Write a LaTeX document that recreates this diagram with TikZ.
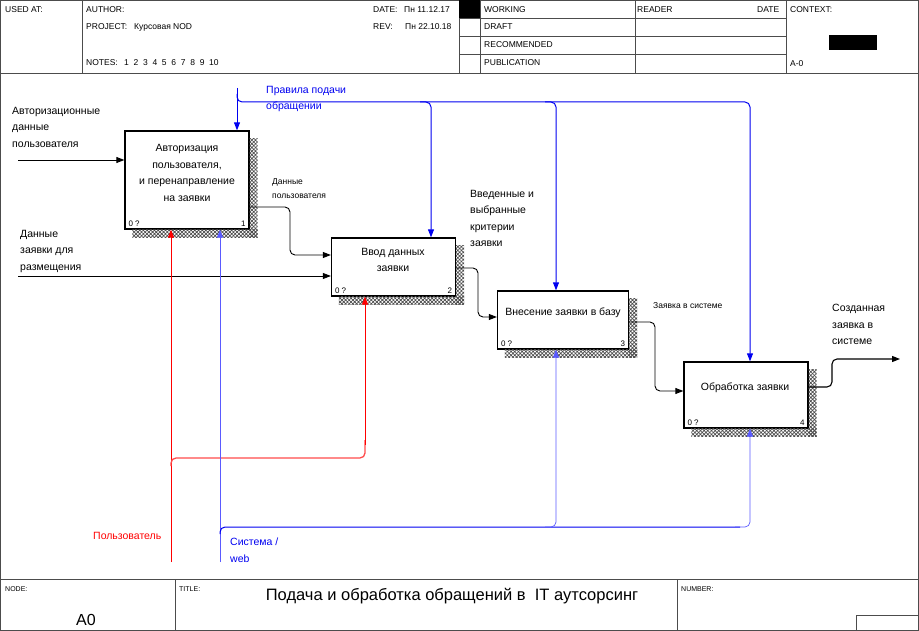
\documentclass[tikz,border=0pt]{standalone}
\usepackage{fontspec}
\setmainfont{Liberation Sans}
\usetikzlibrary{arrows.meta,patterns.meta,calc}
\definecolor{cblue}{RGB}{0,0,240}
\definecolor{mblue}{RGB}{90,90,255}
\definecolor{mred}{RGB}{255,0,0}
\newcommand\boxshadow[1]{%
  \fill[pattern={Hatch[distance=2.6pt, angle=45, line width=0.7pt]}, pattern color=black!70] ($(#1.north east)+(0,8)$) rectangle ($(#1.south east)+(8,8)$);
  \fill[pattern={Hatch[distance=2.6pt, angle=45, line width=0.7pt]}, pattern color=black!70] ($(#1.south west)+(8,0)$) rectangle ($(#1.south east)+(8,8)$);
}
\begin{document}
\begin{tikzpicture}[x=1pt,y=-1pt,
  hdr/.style={font=\fontsize{8.5}{10}\selectfont, anchor=west, inner sep=0},
  ftr/.style={font=\fontsize{7}{8}\selectfont, anchor=west, inner sep=0},
  frame/.style={draw=black!70, line width=0.8pt},
  box/.style={draw, line width=1.3pt, fill=white, inner sep=0},
  boxtxt/.style={font=\fontsize{10.5}{16.5}\selectfont, align=center, inner sep=0},
  lbl/.style={font=\fontsize{10.5}{16.5}\selectfont, align=left, anchor=north west, inner sep=0},
  small/.style={font=\fontsize{8.5}{14}\selectfont, align=left, anchor=north west, inner sep=0},
  num/.style={font=\fontsize{8}{9}\selectfont, inner sep=0},
  tip/.style={-{Triangle[length=8pt,width=6pt]}},
  flow/.style={tip, line width=0.9pt, rounded corners=5pt},
  ctrl/.style={tip, draw=cblue, line width=1pt, rounded corners=5pt},
  mech/.style={tip, draw=mblue, line width=0.7pt, rounded corners=5pt},
  mechr/.style={tip, draw=mred, line width=0.9pt, rounded corners=5pt}]
\useasboundingbox (0,0) rectangle (919,631);
% ---------- frame ----------
\draw[frame] (0.5,0.5) rectangle (918.5,630.5);
\draw[frame] (0,73) -- (919,73);
\draw[frame] (82,0) -- (82,73);
\draw[frame] (459,0) -- (459,73);
\draw[frame] (480,0) -- (480,73);
\draw[frame] (635,0) -- (635,73);
\draw[frame] (786,0) -- (786,73);
\foreach \yy in {18,36,54} \draw[frame] (459,\yy) -- (786,\yy);
\fill (459,0) rectangle (480,18);
\fill (829,35) rectangle (877,50);
\node[hdr] (usedat) at (5,10) {USED AT:};
\node[hdr] (author) at (86,10) {AUTHOR:};
\node[hdr] (project) at (86,27) {PROJECT:};
\node[hdr] (projectv) at (134,27) {Курсовая NOD};
\node[hdr] (notes) at (86,63) {NOTES:};
\node[hdr] (notesv) at (124,63) {1\ \ 2\ \ 3\ \ 4\ \ 5\ \ 6\ \ 7\ \ 8\ \ 9\ \ 10};
\node[hdr] (date) at (373,10) {DATE:};
\node[hdr] (datev) at (404,10) {Пн 11.12.17};
\node[hdr] (rev) at (373,27) {REV:};
\node[hdr] (revv) at (405,27) {Пн 22.10.18};
\node[hdr] (working) at (484,10) {WORKING};
\node[hdr] (draft) at (484,27) {DRAFT};
\node[hdr] (recom) at (484,45) {RECOMMENDED};
\node[hdr] (publ) at (484,63) {PUBLICATION};
\node[hdr] (reader) at (637,10) {READER};
\node[hdr] (rdate) at (757,10) {DATE};
\node[hdr] (context) at (790,10) {CONTEXT:};
\node[hdr] (azero) at (790,64) {A-0};
% footer
\draw[frame] (0,579) -- (919,579);
\draw[frame] (175,579) -- (175,631);
\draw[frame] (677,579) -- (677,631);
\draw[frame] (856,631) -- (856,615) -- (919,615);
\node[ftr] (nodel) at (5,589) {NODE:};
\node[ftr] (titlel) at (179,589) {TITLE:};
\node[ftr] (numberl) at (681,589) {NUMBER:};
\node[font=\fontsize{16.5}{18}\selectfont, inner sep=0] (title) at (452,596) {Подача и обработка обращений в \ IT аутсорсинг};
\node[font=\fontsize{16}{18}\selectfont, inner sep=0] (nodev) at (86,620) {A0};
% ---------- boxes ----------
\node[box, minimum width=124, minimum height=98] (b1) at (187,180) {};
\node[box, minimum width=124, minimum height=58] (b2) at (393.5,267) {};
\node[box, minimum width=131, minimum height=58] (b3) at (563,320) {};
\node[box, minimum width=124, minimum height=66] (b4) at (746,395) {};
\boxshadow{b1}
\boxshadow{b2}
\boxshadow{b3}
\boxshadow{b4}
\node[boxtxt] (t1) at (187,173) {Авторизация\\пользователя,\\и перенаправление\\на заявки};
\node[boxtxt] (t2) at (393,260) {Ввод данных\\заявки};
\node[boxtxt] (t3) at (563,313) {Внесение заявки в базу};
\node[boxtxt] (t4) at (745,388) {Обработка заявки};
\foreach \b/\n in {b1/1,b2/2,b3/3,b4/4}{
  \node[num, anchor=south west] at ($(\b.south west)+(4,-3)$) {0 ?};
  \node[num, anchor=south east] at ($(\b.south east)+(-4,-3)$) {\n};
}
% ---------- inputs / outputs ----------
\coordinate (in1) at (18,160);
\coordinate (in2) at (18,276);
\coordinate (out4) at (900,359);
\draw[tip, line width=0.9pt] (in1) -- (in1 -| b1.west);
\draw[tip, line width=0.7pt] (in2) -- (in2 -| b2.west);
\draw[flow] (b1.east |- 0,207) -- (290,207) -- (290,255) -- (b2.west |- 0,255);
\draw[flow] (b2.east |- 0,268) -- (478,268) -- (478,317) -- (b3.west |- 0,317);
\draw[flow] (b3.east |- 0,322) -- (655,322) -- (655,391) -- (b4.west |- 0,391);
\draw[flow, line width=1.1pt] (b4.east |- 0,387) -- (832,387) -- (832,359) -- (out4);
% ---------- controls ----------
\coordinate (ctop) at (237,88);
\draw[ctrl] (ctop) -- (ctop |- b1.north);
\draw[ctrl] (237,94) |- (750,102) -- (750,0 |- b4.north);
\draw[ctrl] (420,102) -| (431,0 |- b2.north);
\draw[ctrl] (545,102) -| (556,0 |- b3.north);
% ---------- mechanisms ----------
\coordinate (mred) at (171,562);
\coordinate (mblue) at (220,562);
\draw[mechr] (mred) -- (mred |- b1.south);
\draw[mechr, draw=mred!70, line width=1.3pt, -] (171,466) |- (365,458) -- (365,440);
\draw[mechr] (365,445) -- (365,0 |- b2.south);
\draw[mech] (mblue) -- (mblue |- b1.south);
\draw[mech, draw=cblue, line width=1pt, -] (220,534) |- (740,527);
\draw[mech] (545,527) -| (556,0 |- b3.south);
\draw[mech] (735,527) -| (750,0 |- b4.south);
% ---------- labels ----------
\node[lbl] (l1) at (12,107) {Авторизационные\\данные\\пользователя};
\node[lbl] (l2) at (20,230) {Данные\\заявки для\\размещения};
\node[lbl, text=cblue] (l3) at (266,86) {Правила подачи\\обращении};
\node[small] (l4) at (272,178) {Данные\\пользователя};
\node[lbl] (l5) at (470,190) {Введенные и\\выбранные\\критерии\\заявки};
\node[small, font=\fontsize{8.5}{9}\selectfont] (l6) at (653,302) {Заявка в системе};
\node[lbl] (l7) at (832,304) {Созданная\\заявка в\\системе};
\node[lbl, text=mred, anchor=west] (l8) at (93,536) {Пользователь};
\node[lbl, text=cblue] (l9) at (230,538) {Система /\\web};
\end{tikzpicture}
\end{document}
